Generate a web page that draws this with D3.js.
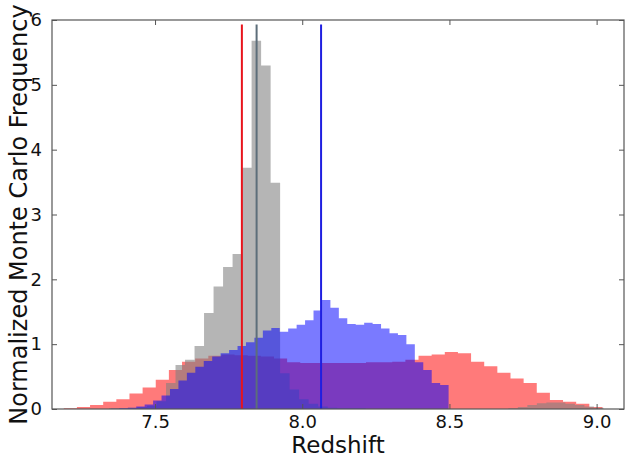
<!DOCTYPE html>
<html>
<head>
<meta charset="utf-8">
<script src="https://cdn.jsdelivr.net/npm/d3@7/dist/d3.min.js"></script>
<style>
  html, body { margin: 0; padding: 0; background: #fff; }
  svg { display: block; }
  text { font-family: "DejaVu Sans", sans-serif; fill: #111; }
</style>
</head>
<body>
<svg id="chart" width="626" height="459"></svg>
<script>
// ---------- data ----------
const xTicks = [7.5, 8.0, 8.5, 9.0];
const yTicks = [0, 1, 2, 3, 4, 5, 6];
const xLabel = "Redshift";
const yLabel = "Normalized Monte Carlo Frequency";

// red histogram (broad)
const redStart = 7.19;
const redWidth = 0.04463;
const redValues = [0.012, 0.03, 0.06, 0.11, 0.15, 0.24, 0.33, 0.45, 0.60, 0.73, 0.78,
  0.82, 0.84, 0.83, 0.82, 0.81, 0.78, 0.72, 0.71, 0.71, 0.71,
  0.71, 0.71, 0.72, 0.72, 0.73, 0.76, 0.82, 0.84, 0.88, 0.86,
  0.73, 0.66, 0.56, 0.47, 0.40, 0.25, 0.14, 0.11, 0.08, 0.03];

// gray histogram (narrow peak)
const grayStart = 7.3435;
const grayWidth = 0.0323;
const grayValues = [0.01, 0.01, 0.02, 0.03, 0.05, 0.12, 0.40, 0.68, 0.76, 0.97,
  1.48, 1.89, 2.19, 2.39, 3.72, 5.68, 5.30, 3.49, 0.55, 0.30,
  0.15, 0.08, 0.04, 0.02, 0.01, 0.01, 0.01, 0.0, 0.0, 0.0,
  0.0, 0.0, 0.0, 0.0, 0.0, 0.0, 0.0, 0.0, 0.0, 0.0,
  0.0, 0.0, 0.01, 0.03, 0.06, 0.09, 0.10, 0.10, 0.08, 0.06,
  0.04, 0.02];

// blue histogram
const blueStart = 7.35;
const blueWidth = 0.02868;
const blueValues = [0.005, 0.01, 0.02, 0.04, 0.07, 0.13, 0.21, 0.31, 0.44, 0.56,
  0.65, 0.74, 0.81, 0.86, 0.91, 0.97, 1.03, 1.10, 1.21, 1.25,
  1.19, 1.24, 1.30, 1.37, 1.52, 1.68, 1.56, 1.40, 1.31, 1.30,
  1.33, 1.31, 1.24, 1.17, 1.14, 1.00, 0.72, 0.60, 0.40, 0.37];

// vertical marker lines
const lineValues = [7.795, 7.845, 8.064];
const lineColors = ["#e8141c", "#5d6e7a", "#1f1fe0"];
const lineTop = 5.93;

// ---------- layout ----------
const W = 626, H = 459;
const m = { left: 52, right: 2, top: 20, bottom: 50 };
const x = d3.scaleLinear().domain([7.15, 9.093]).range([m.left, W - m.right]);
const y = d3.scaleLinear().domain([0, 6]).range([H - m.bottom, m.top]);

const svg = d3.select("#chart");

svg.append("defs").append("clipPath").attr("id", "clip")
  .append("rect")
  .attr("x", m.left).attr("y", m.top)
  .attr("width", W - m.right - m.left).attr("height", H - m.bottom - m.top);

const plot = svg.append("g").attr("clip-path", "url(#clip)");

function histPoints(start, width, values) {
  const pts = values.map((v, i) => ({ x: start + i * width, v }));
  pts.push({ x: start + values.length * width, v: values[values.length - 1] });
  return pts;
}
const area = d3.area()
  .curve(d3.curveStepAfter)
  .x(d => x(d.x))
  .y0(y(0))
  .y1(d => y(d.v));

const hists = [
  { start: redStart, width: redWidth, values: redValues, color: "#ff0000", op: 0.52 },
  { start: grayStart, width: grayWidth, values: grayValues, color: "#808080", op: 0.58 },
  { start: blueStart, width: blueWidth, values: blueValues, color: "#0000ff", op: 0.52 }
];
hists.forEach(h => {
  plot.append("path")
    .datum(histPoints(h.start, h.width, h.values))
    .attr("d", area)
    .attr("fill", h.color)
    .attr("fill-opacity", h.op)
    .attr("stroke", "none");
});

// vertical lines
plot.selectAll("line.marker")
  .data(lineValues)
  .enter().append("line")
  .attr("class", "marker")
  .attr("x1", d => x(d)).attr("x2", d => x(d))
  .attr("y1", y(0)).attr("y2", y(lineTop))
  .attr("stroke", (d, i) => lineColors[i])
  .attr("stroke-width", 2);

// ---------- axes ----------
const axisColor = "#555";
const tickLen = 5;
const xB = svg.append("g").attr("transform", `translate(0,${y(0)})`)
  .call(d3.axisBottom(x).tickValues(xTicks).tickFormat(d3.format(".1f"))
    .tickSizeInner(-tickLen).tickSizeOuter(0).tickPadding(6));
const xT = svg.append("g").attr("transform", `translate(0,${m.top})`)
  .call(d3.axisTop(x).tickValues(xTicks).tickFormat("")
    .tickSizeInner(-tickLen).tickSizeOuter(0));
const yL = svg.append("g").attr("transform", `translate(${m.left},0)`)
  .call(d3.axisLeft(y).tickValues(yTicks).tickFormat(d3.format("d"))
    .tickSizeInner(-tickLen).tickSizeOuter(0).tickPadding(10));
const yR = svg.append("g").attr("transform", `translate(${W - m.right},0)`)
  .call(d3.axisRight(y).tickValues(yTicks).tickFormat("")
    .tickSizeInner(-tickLen).tickSizeOuter(0));

[xB, xT, yL, yR].forEach(g => {
  g.select(".domain").remove();
  g.selectAll(".tick line").attr("stroke", axisColor);
  g.selectAll("text").attr("font-family", "DejaVu Sans").attr("font-size", 18).attr("fill", "#111");
});

// frame
svg.append("rect")
  .attr("x", m.left).attr("y", m.top)
  .attr("width", W - m.right - m.left).attr("height", H - m.bottom - m.top)
  .attr("fill", "none").attr("stroke", axisColor).attr("stroke-width", 1.2);

// labels
svg.append("text")
  .attr("x", (m.left + W - m.right) / 2).attr("y", 453)
  .attr("text-anchor", "middle")
  .attr("font-size", 23)
  .text(xLabel);
svg.append("text")
  .attr("transform", `translate(27,${(m.top + H - m.bottom) / 2}) rotate(-90)`)
  .attr("text-anchor", "middle")
  .attr("font-size", 24)
  .text(yLabel);
</script>
</body>
</html>
